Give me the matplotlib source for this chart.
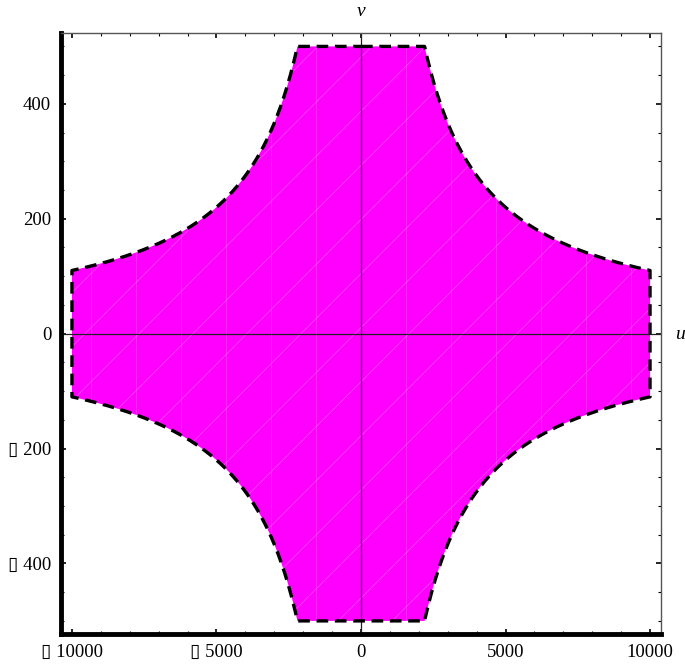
import numpy as np
import matplotlib.pyplot as plt
from matplotlib.ticker import MultipleLocator, FuncFormatter

# Region |u*v| <= uv_limit inside the box |u| <= u_max, |v| <= v_max
u_max = 10000
v_max = 500
uv_limit = 1.1e6

plt.rcParams['font.family'] = ['Liberation Serif', 'DejaVu Sans']
plt.rcParams['font.size'] = 13.5

fig = plt.figure(figsize=(6.85, 6.64), dpi=100)
ax = fig.add_axes([0.089, 0.045, 0.876, 0.905])

# boundary of the upper-right quarter, then mirrored round the origin
u_corner = uv_limit / v_max
uq = np.linspace(u_corner, u_max, 200)
vq = uv_limit / uq
u_q1 = np.concatenate([[0], uq, [u_max]])
v_q1 = np.concatenate([[v_max], vq, [0]])

u_b = np.concatenate([u_q1, u_q1[::-1][1:]])
v_b = np.concatenate([v_q1, -v_q1[::-1][1:]])
u_b = np.concatenate([u_b, -u_b[::-1][1:]])
v_b = np.concatenate([v_b, v_b[::-1][1:]])

region = ax.fill(u_b, v_b, color='#ff00ff', lw=0, zorder=1)[0]

# faint mesh seams across the filled region
for k in np.arange(-1.0, 1.0, 0.09):
    ln, = ax.plot([k, k + 1], [0, 1], transform=ax.transAxes,
                  color='white', lw=0.5, alpha=0.3, zorder=1.5)
    ln.set_clip_path(region)
for k in np.arange(0.05, 1.0, 0.075):
    ln, = ax.plot([k, k], [0, 1], transform=ax.transAxes,
                  color='white', lw=0.5, alpha=0.2, zorder=1.5)
    ln.set_clip_path(region)

ax.plot(u_b, v_b, color='black', lw=2.4, ls=(0, (3.5, 2.0)), zorder=3)

# axes through the origin
ax.axhline(0, color='#222222', lw=0.9, zorder=2)
ax.axvline(0, color='#222222', lw=0.9, zorder=2)

ax.set_xlim(-10380, 10380)
ax.set_ylim(-523, 523)

ax.xaxis.set_major_locator(MultipleLocator(5000))
ax.xaxis.set_minor_locator(MultipleLocator(1000))
ax.yaxis.set_major_locator(MultipleLocator(200))
ax.yaxis.set_minor_locator(MultipleLocator(50))

def fmt(val, pos):
    val = int(round(val))
    if val < 0:
        return '\u25af ' + str(-val)
    return str(val)

ax.xaxis.set_major_formatter(FuncFormatter(fmt))
ax.yaxis.set_major_formatter(FuncFormatter(fmt))

ax.tick_params(which='both', direction='in', top=True, right=True, color='black')
ax.tick_params(which='major', length=3.5, width=1.2, pad=7)
ax.tick_params(which='minor', length=2, width=0.8)

for side in ['left', 'bottom']:
    ax.spines[side].set_linewidth(3.5)
    ax.spines[side].set_color('black')
for side in ['top', 'right']:
    ax.spines[side].set_linewidth(1.0)
    ax.spines[side].set_color('#555555')

fig.text(0.993, 0.496, 'u', fontsize=14, style='italic', ha='center', va='center')
fig.text(0.527, 0.982, 'v', fontsize=14, style='italic', ha='center', va='center')

plt.savefig('out.png', dpi=100)
